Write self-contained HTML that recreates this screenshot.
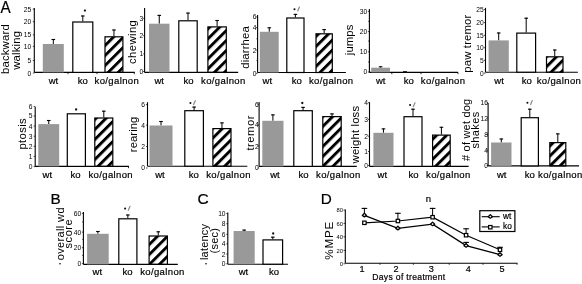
<!DOCTYPE html>
<html><head><meta charset="utf-8"><style>
html,body{margin:0;padding:0;background:#fff;}
body{width:582px;height:284px;overflow:hidden;}
svg{display:block;filter:blur(0.3px);}
text{font-family:"Liberation Sans", sans-serif;fill:#000;}
.s{stroke:#000;stroke-width:0.2px;}
.y{}
</style></head><body>
<svg width="582" height="284" viewBox="0 0 582 284">
<defs>
<pattern id="h0" patternUnits="userSpaceOnUse" width="7.07" height="7.07" patternTransform="rotate(45) translate(6.061,0)"><rect x="0" y="0" width="2.9" height="7.07" fill="#000"/></pattern><pattern id="h1" patternUnits="userSpaceOnUse" width="7.07" height="7.07" patternTransform="rotate(45) translate(3.385,0)"><rect x="0" y="0" width="2.9" height="7.07" fill="#000"/></pattern><pattern id="h2" patternUnits="userSpaceOnUse" width="7.07" height="7.07" patternTransform="rotate(45) translate(0.357,0)"><rect x="0" y="0" width="2.9" height="7.07" fill="#000"/></pattern><pattern id="h3" patternUnits="userSpaceOnUse" width="7.07" height="7.07" patternTransform="rotate(45) translate(0.949,0)"><rect x="0" y="0" width="2.9" height="7.07" fill="#000"/></pattern><pattern id="h4" patternUnits="userSpaceOnUse" width="7.07" height="7.07" patternTransform="rotate(45) translate(1.686,0)"><rect x="0" y="0" width="2.9" height="7.07" fill="#000"/></pattern><pattern id="h5" patternUnits="userSpaceOnUse" width="7.07" height="7.07" patternTransform="rotate(45) translate(6.295,0)"><rect x="0" y="0" width="2.9" height="7.07" fill="#000"/></pattern><pattern id="h6" patternUnits="userSpaceOnUse" width="7.07" height="7.07" patternTransform="rotate(45) translate(5.174,0)"><rect x="0" y="0" width="2.9" height="7.07" fill="#000"/></pattern><pattern id="h7" patternUnits="userSpaceOnUse" width="7.07" height="7.07" patternTransform="rotate(45) translate(7.025,0)"><rect x="0" y="0" width="2.9" height="7.07" fill="#000"/></pattern><pattern id="h8" patternUnits="userSpaceOnUse" width="7.07" height="7.07" patternTransform="rotate(45) translate(2.797,0)"><rect x="0" y="0" width="2.9" height="7.07" fill="#000"/></pattern><pattern id="h9" patternUnits="userSpaceOnUse" width="7.07" height="7.07" patternTransform="rotate(45) translate(1.280,0)"><rect x="0" y="0" width="2.9" height="7.07" fill="#000"/></pattern>
</defs>
<rect width="582" height="284" fill="#fff"/>
<line x1="34.3" y1="8" x2="34.3" y2="72.4" stroke="#000" stroke-width="1.1"/>
<line x1="34.3" y1="72.4" x2="134.8" y2="72.4" stroke="#000" stroke-width="1.1"/>
<line x1="32.8" y1="9.1" x2="34.3" y2="9.1" stroke="#000" stroke-width="0.7"/>
<text x="31.3" y="11.51" text-anchor="end" font-size="6.7" >25</text>
<line x1="32.8" y1="21.7" x2="34.3" y2="21.7" stroke="#000" stroke-width="0.7"/>
<text x="31.3" y="24.11" text-anchor="end" font-size="6.7" >20</text>
<line x1="32.8" y1="34.8" x2="34.3" y2="34.8" stroke="#000" stroke-width="0.7"/>
<text x="31.3" y="37.21" text-anchor="end" font-size="6.7" >15</text>
<line x1="32.8" y1="46.4" x2="34.3" y2="46.4" stroke="#000" stroke-width="0.7"/>
<text x="31.3" y="48.81" text-anchor="end" font-size="6.7" >10</text>
<line x1="32.8" y1="60.5" x2="34.3" y2="60.5" stroke="#000" stroke-width="0.7"/>
<text x="31.3" y="62.91" text-anchor="end" font-size="6.7" >5</text>
<line x1="32.8" y1="73.1" x2="34.3" y2="73.1" stroke="#000" stroke-width="0.7"/>
<text x="31.3" y="75.51" text-anchor="end" font-size="6.7" >0</text>
<line x1="68" y1="72.4" x2="68" y2="74.2" stroke="#000" stroke-width="0.8"/>
<line x1="97" y1="72.4" x2="97" y2="74.2" stroke="#000" stroke-width="0.8"/>
<line x1="134.3" y1="72.4" x2="134.3" y2="74.2" stroke="#000" stroke-width="0.8"/>
<line x1="53.3" y1="39" x2="53.3" y2="44" stroke="#000" stroke-width="1"/>
<line x1="51.5" y1="39.5" x2="55.099999999999994" y2="39.5" stroke="#000" stroke-width="1.1"/>
<rect x="42.8" y="44" width="21.0" height="28.400000000000006" fill="#999999"/>
<line x1="82.80000000000001" y1="15.5" x2="82.80000000000001" y2="21.4" stroke="#000" stroke-width="1"/>
<line x1="81.00000000000001" y1="16.0" x2="84.60000000000001" y2="16.0" stroke="#000" stroke-width="1.1"/>
<rect x="72.8" y="22.0" width="20.000000000000004" height="50.400000000000006" fill="#fff" stroke="#000" stroke-width="1.2"/>
<line x1="113.95" y1="29.5" x2="113.95" y2="36.2" stroke="#000" stroke-width="1"/>
<line x1="112.15" y1="30.0" x2="115.75" y2="30.0" stroke="#000" stroke-width="1.1"/>
<rect x="105.0" y="36.800000000000004" width="17.899999999999995" height="35.6" fill="url(#h0)" stroke="#000" stroke-width="1.2"/>
<circle cx="84.9" cy="10.6" r="1.15" fill="#111"/>
<text class="y" transform="translate(9.4,49.2) rotate(-90)" text-anchor="middle" font-size="11.3" textLength="49.76" lengthAdjust="spacing">backward</text>
<text class="y" transform="translate(19.5,50.4) rotate(-90)" text-anchor="middle" font-size="11.3" textLength="38.69" lengthAdjust="spacing">walking</text>
<text x="48.7" y="83.9" text-anchor="start" font-size="9.5" class="s">wt</text>
<text x="77.76" y="83.9" text-anchor="start" font-size="9.5" class="s">ko</text>
<text class="s" x="94.56" y="83.9" font-size="9.5" textLength="44.2" lengthAdjust="spacing">ko/galnon</text>
<line x1="144.6" y1="8" x2="144.6" y2="72.4" stroke="#000" stroke-width="1.1"/>
<line x1="144.6" y1="72.4" x2="238.2" y2="72.4" stroke="#000" stroke-width="1.1"/>
<line x1="143.1" y1="18.4" x2="144.6" y2="18.4" stroke="#000" stroke-width="0.7"/>
<text x="143.2" y="20.81" text-anchor="end" font-size="6.7" >3</text>
<line x1="143.1" y1="35.7" x2="144.6" y2="35.7" stroke="#000" stroke-width="0.7"/>
<text x="143.2" y="38.11" text-anchor="end" font-size="6.7" >2</text>
<line x1="143.1" y1="53.9" x2="144.6" y2="53.9" stroke="#000" stroke-width="0.7"/>
<text x="143.2" y="56.31" text-anchor="end" font-size="6.7" >1</text>
<line x1="143.1" y1="71.5" x2="144.6" y2="71.5" stroke="#000" stroke-width="0.7"/>
<text x="143.2" y="73.91" text-anchor="end" font-size="6.7" >0</text>
<line x1="159.25" y1="14.9" x2="159.25" y2="23.7" stroke="#000" stroke-width="1"/>
<line x1="157.45" y1="15.4" x2="161.05" y2="15.4" stroke="#000" stroke-width="1.1"/>
<rect x="149" y="23.7" width="20.5" height="48.7" fill="#999999"/>
<line x1="188.0" y1="12.6" x2="188.0" y2="20.2" stroke="#000" stroke-width="1"/>
<line x1="186.2" y1="13.1" x2="189.8" y2="13.1" stroke="#000" stroke-width="1.1"/>
<rect x="178.79999999999998" y="20.8" width="18.400000000000023" height="51.6" fill="#fff" stroke="#000" stroke-width="1.2"/>
<line x1="217.10000000000002" y1="20" x2="217.10000000000002" y2="26.3" stroke="#000" stroke-width="1"/>
<line x1="215.3" y1="20.5" x2="218.90000000000003" y2="20.5" stroke="#000" stroke-width="1.1"/>
<rect x="207.9" y="26.900000000000002" width="18.399999999999995" height="45.50000000000001" fill="url(#h1)" stroke="#000" stroke-width="1.2"/>
<text class="y" transform="translate(135.8,42.0) rotate(-90)" text-anchor="middle" font-size="11.3" textLength="43.85" lengthAdjust="spacing">chewing</text>
<text x="154.4" y="83.9" text-anchor="start" font-size="9.5" class="s">wt</text>
<text x="183.56" y="83.9" text-anchor="start" font-size="9.5" class="s">ko</text>
<text class="s" x="201.06" y="83.9" font-size="9.5" textLength="44.2" lengthAdjust="spacing">ko/galnon</text>
<line x1="257.6" y1="14.9" x2="257.6" y2="72.5" stroke="#000" stroke-width="1.1"/>
<line x1="257.6" y1="72.5" x2="345.9" y2="72.5" stroke="#000" stroke-width="1.1"/>
<line x1="256.1" y1="17" x2="257.6" y2="17" stroke="#000" stroke-width="0.7"/>
<text x="256.6" y="19.41" text-anchor="end" font-size="6.7" >6</text>
<line x1="256.1" y1="27.5" x2="257.6" y2="27.5" stroke="#000" stroke-width="0.7"/>
<text x="256.6" y="29.91" text-anchor="end" font-size="6.7" >4</text>
<line x1="256.1" y1="50.1" x2="257.6" y2="50.1" stroke="#000" stroke-width="0.7"/>
<text x="256.6" y="52.51" text-anchor="end" font-size="6.7" >2</text>
<line x1="256.1" y1="73.3" x2="257.6" y2="73.3" stroke="#000" stroke-width="0.7"/>
<text x="256.6" y="75.71" text-anchor="end" font-size="6.7" >0</text>
<line x1="256.40000000000003" y1="60.4" x2="257.6" y2="60.4" stroke="#000" stroke-width="0.7"/>
<line x1="256.40000000000003" y1="38.8" x2="257.6" y2="38.8" stroke="#000" stroke-width="0.7"/>
<line x1="269.25" y1="27.3" x2="269.25" y2="31.8" stroke="#000" stroke-width="1"/>
<line x1="267.45" y1="27.8" x2="271.05" y2="27.8" stroke="#000" stroke-width="1.1"/>
<rect x="259.8" y="31.8" width="18.899999999999977" height="40.7" fill="#999999"/>
<line x1="295.4" y1="13.9" x2="295.4" y2="17.4" stroke="#000" stroke-width="1"/>
<line x1="293.59999999999997" y1="14.4" x2="297.2" y2="14.4" stroke="#000" stroke-width="1.1"/>
<rect x="286.8" y="18.0" width="17.200000000000035" height="54.5" fill="#fff" stroke="#000" stroke-width="1.2"/>
<line x1="324.15" y1="29.1" x2="324.15" y2="33.2" stroke="#000" stroke-width="1"/>
<line x1="322.34999999999997" y1="29.6" x2="325.95" y2="29.6" stroke="#000" stroke-width="1.1"/>
<rect x="316.0" y="33.800000000000004" width="16.3" height="38.699999999999996" fill="url(#h2)" stroke="#000" stroke-width="1.2"/>
<circle cx="294.5" cy="9.3" r="1.05" fill="#111"/>
<line x1="297.7" y1="10.9" x2="299.4" y2="7.000000000000001" stroke="#888" stroke-width="1.2" stroke-linecap="round"/>
<text class="y" transform="translate(248.7,47.5) rotate(-90)" text-anchor="middle" font-size="11.3" textLength="42.65" lengthAdjust="spacing">diarrhea</text>
<text x="262.6" y="83.9" text-anchor="start" font-size="9.5" class="s">wt</text>
<text x="291.86" y="83.9" text-anchor="start" font-size="9.5" class="s">ko</text>
<text class="s" x="308.96" y="83.9" font-size="9.5" textLength="44.2" lengthAdjust="spacing">ko/galnon</text>
<line x1="369.4" y1="8.9" x2="369.4" y2="72.4" stroke="#000" stroke-width="1.1"/>
<line x1="369.4" y1="72.4" x2="458" y2="72.4" stroke="#000" stroke-width="1.1"/>
<line x1="367.9" y1="11.4" x2="369.4" y2="11.4" stroke="#000" stroke-width="0.7"/>
<text x="367.3" y="13.81" text-anchor="end" font-size="6.7" >30</text>
<line x1="367.9" y1="31.6" x2="369.4" y2="31.6" stroke="#000" stroke-width="0.7"/>
<text x="367.3" y="34.01" text-anchor="end" font-size="6.7" >20</text>
<line x1="367.9" y1="51.8" x2="369.4" y2="51.8" stroke="#000" stroke-width="0.7"/>
<text x="367.3" y="54.21" text-anchor="end" font-size="6.7" >10</text>
<line x1="367.9" y1="72.0" x2="369.4" y2="72.0" stroke="#000" stroke-width="0.7"/>
<text x="367.3" y="74.41" text-anchor="end" font-size="6.7" >0</text>
<line x1="368.2" y1="21.3" x2="369.4" y2="21.3" stroke="#000" stroke-width="0.7"/>
<line x1="368.2" y1="41.1" x2="369.4" y2="41.1" stroke="#000" stroke-width="0.7"/>
<line x1="368.2" y1="62" x2="369.4" y2="62" stroke="#000" stroke-width="0.7"/>
<line x1="391.8" y1="72.4" x2="391.8" y2="74.2" stroke="#000" stroke-width="0.8"/>
<line x1="421" y1="72.4" x2="421" y2="74.2" stroke="#000" stroke-width="0.8"/>
<line x1="458" y1="72.4" x2="458" y2="74.2" stroke="#000" stroke-width="0.8"/>
<line x1="380.6" y1="66.3" x2="380.6" y2="67.7" stroke="#000" stroke-width="1"/>
<line x1="378.8" y1="66.8" x2="382.40000000000003" y2="66.8" stroke="#000" stroke-width="1.1"/>
<rect x="371.2" y="67.7" width="18.80000000000001" height="4.700000000000003" fill="#999999"/>
<rect x="403" y="71.2" width="4" height="1.2000000000000028" fill="#000"/>
<text class="y" transform="translate(352.7,39.9) rotate(-90)" text-anchor="middle" font-size="11.3" textLength="30.54" lengthAdjust="spacing">jumps</text>
<text x="375.9" y="83.9" text-anchor="start" font-size="9.5" class="s">wt</text>
<text x="403.76" y="83.9" text-anchor="start" font-size="9.5" class="s">ko</text>
<text class="s" x="420.86" y="83.9" font-size="9.5" textLength="44.2" lengthAdjust="spacing">ko/galnon</text>
<line x1="485.5" y1="7.9" x2="485.5" y2="72.2" stroke="#000" stroke-width="1.1"/>
<line x1="485.5" y1="72.2" x2="577.9" y2="72.2" stroke="#000" stroke-width="1.1"/>
<line x1="484.0" y1="9.5" x2="485.5" y2="9.5" stroke="#000" stroke-width="0.7"/>
<text x="483.7" y="11.91" text-anchor="end" font-size="6.7" >25</text>
<line x1="484.0" y1="22.5" x2="485.5" y2="22.5" stroke="#000" stroke-width="0.7"/>
<text x="483.7" y="24.91" text-anchor="end" font-size="6.7" >20</text>
<line x1="484.0" y1="35.3" x2="485.5" y2="35.3" stroke="#000" stroke-width="0.7"/>
<text x="483.7" y="37.71" text-anchor="end" font-size="6.7" >15</text>
<line x1="484.0" y1="47.7" x2="485.5" y2="47.7" stroke="#000" stroke-width="0.7"/>
<text x="483.7" y="50.11" text-anchor="end" font-size="6.7" >10</text>
<line x1="484.0" y1="60.4" x2="485.5" y2="60.4" stroke="#000" stroke-width="0.7"/>
<text x="483.7" y="62.81" text-anchor="end" font-size="6.7" >5</text>
<line x1="484.0" y1="73.1" x2="485.5" y2="73.1" stroke="#000" stroke-width="0.7"/>
<text x="483.7" y="75.51" text-anchor="end" font-size="6.7" >0</text>
<line x1="498.70000000000005" y1="32.5" x2="498.70000000000005" y2="40.4" stroke="#000" stroke-width="1"/>
<line x1="496.90000000000003" y1="33.0" x2="500.50000000000006" y2="33.0" stroke="#000" stroke-width="1.1"/>
<rect x="488.6" y="40.4" width="20.19999999999999" height="31.800000000000004" fill="#999999"/>
<line x1="526.2" y1="17.7" x2="526.2" y2="32.5" stroke="#000" stroke-width="1"/>
<line x1="524.4000000000001" y1="18.2" x2="528.0" y2="18.2" stroke="#000" stroke-width="1.1"/>
<rect x="516.8000000000001" y="33.1" width="18.8" height="39.1" fill="#fff" stroke="#000" stroke-width="1.2"/>
<line x1="554.75" y1="49.5" x2="554.75" y2="56.2" stroke="#000" stroke-width="1"/>
<line x1="552.95" y1="50.0" x2="556.55" y2="50.0" stroke="#000" stroke-width="1.1"/>
<rect x="546.5" y="56.800000000000004" width="16.500000000000046" height="15.4" fill="url(#h3)" stroke="#000" stroke-width="1.2"/>
<text class="y" transform="translate(471,43.7) rotate(-90)" text-anchor="middle" font-size="11.3" textLength="58.12" lengthAdjust="spacing">paw tremor</text>
<text x="494.3" y="83.9" text-anchor="start" font-size="9.5" class="s">wt</text>
<text x="521.76" y="83.9" text-anchor="start" font-size="9.5" class="s">ko</text>
<text class="s" x="536.66" y="83.9" font-size="9.5" textLength="44.2" lengthAdjust="spacing">ko/galnon</text>
<line x1="35.2" y1="106.8" x2="35.2" y2="166.4" stroke="#000" stroke-width="1.1"/>
<line x1="35.2" y1="166.4" x2="128.9" y2="166.4" stroke="#000" stroke-width="1.1"/>
<line x1="33.7" y1="106.4" x2="35.2" y2="106.4" stroke="#000" stroke-width="0.7"/>
<text x="32.5" y="108.81" text-anchor="end" font-size="6.7" >6</text>
<line x1="33.7" y1="116" x2="35.2" y2="116" stroke="#000" stroke-width="0.7"/>
<text x="32.5" y="118.41" text-anchor="end" font-size="6.7" >5</text>
<line x1="33.7" y1="126.1" x2="35.2" y2="126.1" stroke="#000" stroke-width="0.7"/>
<text x="32.5" y="128.51" text-anchor="end" font-size="6.7" >4</text>
<line x1="33.7" y1="136.2" x2="35.2" y2="136.2" stroke="#000" stroke-width="0.7"/>
<text x="32.5" y="138.61" text-anchor="end" font-size="6.7" >3</text>
<line x1="33.7" y1="146.3" x2="35.2" y2="146.3" stroke="#000" stroke-width="0.7"/>
<text x="32.5" y="148.71" text-anchor="end" font-size="6.7" >2</text>
<line x1="33.7" y1="156.4" x2="35.2" y2="156.4" stroke="#000" stroke-width="0.7"/>
<text x="32.5" y="158.81" text-anchor="end" font-size="6.7" >1</text>
<line x1="33.7" y1="166.6" x2="35.2" y2="166.6" stroke="#000" stroke-width="0.7"/>
<text x="32.5" y="169.01" text-anchor="end" font-size="6.7" >0</text>
<line x1="128.5" y1="166.4" x2="128.5" y2="168.20000000000002" stroke="#000" stroke-width="0.8"/>
<line x1="48.75" y1="120" x2="48.75" y2="124.1" stroke="#000" stroke-width="1"/>
<line x1="46.95" y1="120.5" x2="50.55" y2="120.5" stroke="#000" stroke-width="1.1"/>
<rect x="38.3" y="124.1" width="20.900000000000006" height="42.30000000000001" fill="#999999"/>
<rect x="67.3" y="113.8" width="18.099999999999998" height="52.6" fill="#fff" stroke="#000" stroke-width="1.2"/>
<line x1="103.80000000000001" y1="110.7" x2="103.80000000000001" y2="117.4" stroke="#000" stroke-width="1"/>
<line x1="102.00000000000001" y1="111.2" x2="105.60000000000001" y2="111.2" stroke="#000" stroke-width="1.1"/>
<rect x="94.8" y="118.0" width="18.000000000000004" height="48.4" fill="url(#h4)" stroke="#000" stroke-width="1.2"/>
<circle cx="76.1" cy="109.5" r="1.15" fill="#111"/>
<text class="y" transform="translate(25.9,133.9) rotate(-90)" text-anchor="middle" font-size="11.3" textLength="31.32" lengthAdjust="spacing">ptosis</text>
<text x="42.6" y="177.8" text-anchor="start" font-size="9.5" class="s">wt</text>
<text x="70.46" y="177.8" text-anchor="start" font-size="9.5" class="s">ko</text>
<text class="s" x="88.46" y="177.8" font-size="9.5" textLength="44.2" lengthAdjust="spacing">ko/galnon</text>
<line x1="147.5" y1="102.2" x2="147.5" y2="166.2" stroke="#000" stroke-width="1.1"/>
<line x1="147.5" y1="166.2" x2="247.3" y2="166.2" stroke="#000" stroke-width="1.1"/>
<line x1="146.0" y1="104.6" x2="147.5" y2="104.6" stroke="#000" stroke-width="0.7"/>
<text x="145.1" y="107.01" text-anchor="end" font-size="6.7" >6</text>
<line x1="146.0" y1="125.2" x2="147.5" y2="125.2" stroke="#000" stroke-width="0.7"/>
<text x="145.1" y="127.61" text-anchor="end" font-size="6.7" >4</text>
<line x1="146.0" y1="146.5" x2="147.5" y2="146.5" stroke="#000" stroke-width="0.7"/>
<text x="145.1" y="148.91" text-anchor="end" font-size="6.7" >2</text>
<line x1="146.0" y1="168" x2="147.5" y2="168" stroke="#000" stroke-width="0.7"/>
<text x="145.1" y="170.41" text-anchor="end" font-size="6.7" >0</text>
<line x1="161.0" y1="121" x2="161.0" y2="125.5" stroke="#000" stroke-width="1"/>
<line x1="159.2" y1="121.5" x2="162.8" y2="121.5" stroke="#000" stroke-width="1.1"/>
<rect x="149.5" y="125.5" width="23.0" height="40.69999999999999" fill="#999999"/>
<line x1="194.1" y1="106.6" x2="194.1" y2="110.1" stroke="#000" stroke-width="1"/>
<line x1="192.29999999999998" y1="107.1" x2="195.9" y2="107.1" stroke="#000" stroke-width="1.1"/>
<rect x="184.79999999999998" y="110.69999999999999" width="18.600000000000012" height="55.49999999999999" fill="#fff" stroke="#000" stroke-width="1.2"/>
<line x1="221.95" y1="122.4" x2="221.95" y2="128.0" stroke="#000" stroke-width="1"/>
<line x1="220.14999999999998" y1="122.9" x2="223.75" y2="122.9" stroke="#000" stroke-width="1.1"/>
<rect x="212.9" y="128.6" width="18.099999999999984" height="37.59999999999999" fill="url(#h5)" stroke="#000" stroke-width="1.2"/>
<circle cx="190.4" cy="103" r="1.05" fill="#111"/>
<line x1="193.6" y1="104.6" x2="195.3" y2="100.7" stroke="#888" stroke-width="1.2" stroke-linecap="round"/>
<text class="y" transform="translate(137.2,134.4) rotate(-90)" text-anchor="middle" font-size="11.3" textLength="35.57" lengthAdjust="spacing">rearing</text>
<text x="155.2" y="177.8" text-anchor="start" font-size="9.5" class="s">wt</text>
<text x="188.66" y="177.8" text-anchor="start" font-size="9.5" class="s">ko</text>
<text class="s" x="206.26" y="177.8" font-size="9.5" textLength="44.2" lengthAdjust="spacing">ko/galnon</text>
<line x1="259.1" y1="101.9" x2="259.1" y2="166.4" stroke="#000" stroke-width="1.1"/>
<line x1="259.1" y1="166.4" x2="356.8" y2="166.4" stroke="#000" stroke-width="1.1"/>
<line x1="257.6" y1="104.2" x2="259.1" y2="104.2" stroke="#000" stroke-width="0.7"/>
<text x="258.8" y="106.61" text-anchor="end" font-size="6.7" >6</text>
<line x1="257.6" y1="124.9" x2="259.1" y2="124.9" stroke="#000" stroke-width="0.7"/>
<text x="258.8" y="127.31" text-anchor="end" font-size="6.7" >4</text>
<line x1="257.6" y1="146.2" x2="259.1" y2="146.2" stroke="#000" stroke-width="0.7"/>
<text x="258.8" y="148.61" text-anchor="end" font-size="6.7" >2</text>
<line x1="257.6" y1="168" x2="259.1" y2="168" stroke="#000" stroke-width="0.7"/>
<text x="258.8" y="170.41" text-anchor="end" font-size="6.7" >0</text>
<line x1="272.9" y1="114.4" x2="272.9" y2="120.8" stroke="#000" stroke-width="1"/>
<line x1="271.09999999999997" y1="114.9" x2="274.7" y2="114.9" stroke="#000" stroke-width="1.1"/>
<rect x="262.3" y="120.8" width="21.19999999999999" height="45.60000000000001" fill="#999999"/>
<line x1="303.04999999999995" y1="106.9" x2="303.04999999999995" y2="110.1" stroke="#000" stroke-width="1"/>
<line x1="301.24999999999994" y1="107.4" x2="304.84999999999997" y2="107.4" stroke="#000" stroke-width="1.1"/>
<rect x="293.8" y="110.69999999999999" width="18.49999999999999" height="55.70000000000001" fill="#fff" stroke="#000" stroke-width="1.2"/>
<line x1="332.0" y1="113.4" x2="332.0" y2="116" stroke="#000" stroke-width="1"/>
<line x1="330.2" y1="113.9" x2="333.8" y2="113.9" stroke="#000" stroke-width="1.1"/>
<rect x="322.8" y="116.6" width="18.400000000000023" height="49.800000000000004" fill="url(#h6)" stroke="#000" stroke-width="1.2"/>
<circle cx="302.3" cy="103" r="1.15" fill="#111"/>
<text class="y" transform="translate(253.5,133.1) rotate(-90)" text-anchor="middle" font-size="11.3" textLength="35.04" lengthAdjust="spacing">tremor</text>
<text x="270.2" y="177.8" text-anchor="start" font-size="9.5" class="s">wt</text>
<text x="298.56" y="177.8" text-anchor="start" font-size="9.5" class="s">ko</text>
<text class="s" x="316.06" y="177.8" font-size="9.5" textLength="44.2" lengthAdjust="spacing">ko/galnon</text>
<line x1="369.5" y1="102.2" x2="369.5" y2="166.4" stroke="#000" stroke-width="1.1"/>
<line x1="369.5" y1="166.4" x2="468.6" y2="166.4" stroke="#000" stroke-width="1.1"/>
<line x1="368.0" y1="102.7" x2="369.5" y2="102.7" stroke="#000" stroke-width="0.7"/>
<text x="368.1" y="105.11" text-anchor="end" font-size="6.7" >4</text>
<line x1="368.0" y1="119.4" x2="369.5" y2="119.4" stroke="#000" stroke-width="0.7"/>
<text x="368.1" y="121.81" text-anchor="end" font-size="6.7" >3</text>
<line x1="368.0" y1="136.2" x2="369.5" y2="136.2" stroke="#000" stroke-width="0.7"/>
<text x="368.1" y="138.61" text-anchor="end" font-size="6.7" >2</text>
<line x1="368.0" y1="151.5" x2="369.5" y2="151.5" stroke="#000" stroke-width="0.7"/>
<text x="368.1" y="153.91" text-anchor="end" font-size="6.7" >1</text>
<line x1="368.0" y1="165.6" x2="369.5" y2="165.6" stroke="#000" stroke-width="0.7"/>
<text x="368.1" y="168.01" text-anchor="end" font-size="6.7" >0</text>
<line x1="383.45" y1="128.4" x2="383.45" y2="132.8" stroke="#000" stroke-width="1"/>
<line x1="381.65" y1="128.9" x2="385.25" y2="128.9" stroke="#000" stroke-width="1.1"/>
<rect x="373.4" y="132.8" width="20.100000000000023" height="33.599999999999994" fill="#999999"/>
<line x1="413.0" y1="108.7" x2="413.0" y2="116.1" stroke="#000" stroke-width="1"/>
<line x1="411.2" y1="109.2" x2="414.8" y2="109.2" stroke="#000" stroke-width="1.1"/>
<rect x="404.0" y="116.69999999999999" width="18.000000000000046" height="49.70000000000001" fill="#fff" stroke="#000" stroke-width="1.2"/>
<line x1="441.4" y1="126.8" x2="441.4" y2="134.5" stroke="#000" stroke-width="1"/>
<line x1="439.59999999999997" y1="127.3" x2="443.2" y2="127.3" stroke="#000" stroke-width="1.1"/>
<rect x="432.6" y="135.1" width="17.600000000000012" height="31.300000000000004" fill="url(#h7)" stroke="#000" stroke-width="1.2"/>
<circle cx="410.1" cy="105" r="1.05" fill="#111"/>
<line x1="413.3" y1="106.6" x2="415.0" y2="102.7" stroke="#888" stroke-width="1.2" stroke-linecap="round"/>
<text class="y" transform="translate(358.7,134.7) rotate(-90)" text-anchor="middle" font-size="11.3" textLength="57.49" lengthAdjust="spacing">weight loss</text>
<text x="377.6" y="177.8" text-anchor="start" font-size="9.5" class="s">wt</text>
<text x="408.56" y="177.8" text-anchor="start" font-size="9.5" class="s">ko</text>
<text class="s" x="426.06" y="177.8" font-size="9.5" textLength="44.2" lengthAdjust="spacing">ko/galnon</text>
<line x1="488.1" y1="103" x2="488.1" y2="165.9" stroke="#000" stroke-width="1.1"/>
<line x1="488.1" y1="165.9" x2="579" y2="165.9" stroke="#000" stroke-width="1.1"/>
<line x1="486.6" y1="102.8" x2="488.1" y2="102.8" stroke="#000" stroke-width="0.7"/>
<text x="488.0" y="105.21" text-anchor="end" font-size="6.7" >16</text>
<line x1="486.6" y1="119" x2="488.1" y2="119" stroke="#000" stroke-width="0.7"/>
<text x="488.0" y="121.41" text-anchor="end" font-size="6.7" >12</text>
<line x1="486.6" y1="134.5" x2="488.1" y2="134.5" stroke="#000" stroke-width="0.7"/>
<text x="488.0" y="136.91" text-anchor="end" font-size="6.7" >8</text>
<line x1="486.6" y1="150.2" x2="488.1" y2="150.2" stroke="#000" stroke-width="0.7"/>
<text x="488.0" y="152.61" text-anchor="end" font-size="6.7" >4</text>
<line x1="486.6" y1="165.6" x2="488.1" y2="165.6" stroke="#000" stroke-width="0.7"/>
<text x="488.0" y="168.01" text-anchor="end" font-size="6.7" >0</text>
<line x1="501.3" y1="138.5" x2="501.3" y2="142.5" stroke="#000" stroke-width="1"/>
<line x1="499.5" y1="139.0" x2="503.1" y2="139.0" stroke="#000" stroke-width="1.1"/>
<rect x="491.1" y="142.5" width="20.399999999999977" height="23.400000000000006" fill="#999999"/>
<line x1="529.8" y1="108.7" x2="529.8" y2="117.1" stroke="#000" stroke-width="1"/>
<line x1="528.0" y1="109.2" x2="531.5999999999999" y2="109.2" stroke="#000" stroke-width="1.1"/>
<rect x="521.2" y="117.69999999999999" width="17.199999999999978" height="48.20000000000001" fill="#fff" stroke="#000" stroke-width="1.2"/>
<line x1="557.8" y1="133.4" x2="557.8" y2="142.0" stroke="#000" stroke-width="1"/>
<line x1="556.0" y1="133.9" x2="559.5999999999999" y2="133.9" stroke="#000" stroke-width="1.1"/>
<rect x="549.8000000000001" y="142.6" width="15.999999999999932" height="23.300000000000004" fill="url(#h8)" stroke="#000" stroke-width="1.2"/>
<circle cx="527.4" cy="102.8" r="1.05" fill="#111"/>
<line x1="530.6" y1="104.39999999999999" x2="532.3" y2="100.5" stroke="#888" stroke-width="1.2" stroke-linecap="round"/>
<text class="y" transform="translate(469.7,129.9) rotate(-90)" text-anchor="middle" font-size="11.0" textLength="62.14" lengthAdjust="spacing"># of wet dog</text>
<text class="y" transform="translate(478.8,130.2) rotate(-90)" text-anchor="middle" font-size="11.0" textLength="36.86" lengthAdjust="spacing">shakes</text>
<text x="497.0" y="177.8" text-anchor="start" font-size="9.5" class="s">wt</text>
<text x="524.66" y="177.8" text-anchor="start" font-size="9.5" class="s">ko</text>
<text class="s" x="538.06" y="177.8" font-size="9.5" textLength="44.2" lengthAdjust="spacing">ko/galnon</text>
<line x1="83.4" y1="212" x2="83.4" y2="264.4" stroke="#000" stroke-width="1.1"/>
<line x1="83.4" y1="264.4" x2="177.8" y2="264.4" stroke="#000" stroke-width="1.1"/>
<line x1="81.9" y1="213.4" x2="83.4" y2="213.4" stroke="#000" stroke-width="0.7"/>
<text x="81.2" y="215.81" text-anchor="end" font-size="6.7" >60</text>
<line x1="81.9" y1="232.1" x2="83.4" y2="232.1" stroke="#000" stroke-width="0.7"/>
<text x="81.2" y="234.51" text-anchor="end" font-size="6.7" >40</text>
<line x1="81.9" y1="247.7" x2="83.4" y2="247.7" stroke="#000" stroke-width="0.7"/>
<text x="81.2" y="250.11" text-anchor="end" font-size="6.7" >20</text>
<line x1="81.9" y1="263.6" x2="83.4" y2="263.6" stroke="#000" stroke-width="0.7"/>
<text x="81.2" y="266.01" text-anchor="end" font-size="6.7" >0</text>
<line x1="82.2" y1="222" x2="83.4" y2="222" stroke="#000" stroke-width="0.7"/>
<line x1="82.2" y1="239.3" x2="83.4" y2="239.3" stroke="#000" stroke-width="0.7"/>
<line x1="82.2" y1="255.4" x2="83.4" y2="255.4" stroke="#000" stroke-width="0.7"/>
<line x1="97.9" y1="231" x2="97.9" y2="233.8" stroke="#000" stroke-width="1"/>
<line x1="96.10000000000001" y1="231.5" x2="99.7" y2="231.5" stroke="#000" stroke-width="1.1"/>
<rect x="87.1" y="233.8" width="21.60000000000001" height="30.599999999999966" fill="#999999"/>
<line x1="127.85" y1="214.5" x2="127.85" y2="218.2" stroke="#000" stroke-width="1"/>
<line x1="126.05" y1="215.0" x2="129.65" y2="215.0" stroke="#000" stroke-width="1.1"/>
<rect x="118.8" y="218.79999999999998" width="18.099999999999998" height="45.59999999999999" fill="#fff" stroke="#000" stroke-width="1.2"/>
<line x1="158.25" y1="231.3" x2="158.25" y2="235.4" stroke="#000" stroke-width="1"/>
<line x1="156.45" y1="231.8" x2="160.05" y2="231.8" stroke="#000" stroke-width="1.1"/>
<rect x="149.1" y="236.0" width="18.3" height="28.39999999999997" fill="url(#h9)" stroke="#000" stroke-width="1.2"/>
<circle cx="125.1" cy="208.6" r="1.05" fill="#111"/>
<line x1="128.29999999999998" y1="210.2" x2="130.0" y2="206.29999999999998" stroke="#888" stroke-width="1.2" stroke-linecap="round"/>
<text class="y" transform="translate(64.0,233.9) rotate(-90)" text-anchor="middle" font-size="11.0" textLength="52.93" lengthAdjust="spacing">overall wd</text>
<text class="y" transform="translate(71.9,233.9) rotate(-90)" text-anchor="middle" font-size="11.0" textLength="29.11" lengthAdjust="spacing">score</text>
<text x="92.6" y="275.0" text-anchor="start" font-size="9.5" class="s">wt</text>
<text x="122.46" y="275.0" text-anchor="start" font-size="9.5" class="s">ko</text>
<text class="s" x="140.16" y="275.0" font-size="9.5" textLength="44.2" lengthAdjust="spacing">ko/galnon</text>
<line x1="227.8" y1="212.6" x2="227.8" y2="264.2" stroke="#000" stroke-width="1.1"/>
<line x1="227.8" y1="264.2" x2="288" y2="264.2" stroke="#000" stroke-width="1.1"/>
<line x1="226.3" y1="213.6" x2="227.8" y2="213.6" stroke="#000" stroke-width="0.7"/>
<text x="225.6" y="216.01" text-anchor="end" font-size="6.7" >10</text>
<line x1="226.3" y1="223.7" x2="227.8" y2="223.7" stroke="#000" stroke-width="0.7"/>
<text x="225.6" y="226.11" text-anchor="end" font-size="6.7" >8</text>
<line x1="226.3" y1="234.3" x2="227.8" y2="234.3" stroke="#000" stroke-width="0.7"/>
<text x="225.6" y="236.71" text-anchor="end" font-size="6.7" >6</text>
<line x1="226.3" y1="243.9" x2="227.8" y2="243.9" stroke="#000" stroke-width="0.7"/>
<text x="225.6" y="246.31" text-anchor="end" font-size="6.7" >4</text>
<line x1="226.3" y1="254.1" x2="227.8" y2="254.1" stroke="#000" stroke-width="0.7"/>
<text x="225.6" y="256.51" text-anchor="end" font-size="6.7" >2</text>
<line x1="226.3" y1="263.8" x2="227.8" y2="263.8" stroke="#000" stroke-width="0.7"/>
<text x="225.6" y="266.21" text-anchor="end" font-size="6.7" >0</text>
<line x1="244.14999999999998" y1="229.6" x2="244.14999999999998" y2="231" stroke="#000" stroke-width="1"/>
<line x1="242.34999999999997" y1="230.1" x2="245.95" y2="230.1" stroke="#000" stroke-width="1.1"/>
<rect x="233.6" y="231" width="21.099999999999994" height="33.19999999999999" fill="#999999"/>
<line x1="272.79999999999995" y1="236.7" x2="272.79999999999995" y2="239.3" stroke="#000" stroke-width="1"/>
<line x1="270.99999999999994" y1="237.2" x2="274.59999999999997" y2="237.2" stroke="#000" stroke-width="1.1"/>
<rect x="263.0" y="239.9" width="19.600000000000012" height="24.299999999999976" fill="#fff" stroke="#000" stroke-width="1.2"/>
<circle cx="273.2" cy="233.5" r="1.15" fill="#111"/>
<text class="y" transform="translate(207.9,242.0) rotate(-90)" text-anchor="middle" font-size="11.0" textLength="36.06" lengthAdjust="spacing">latency</text>
<text class="y" transform="translate(217.6,240.8) rotate(-90)" text-anchor="middle" font-size="11.0" textLength="25.25" lengthAdjust="spacing">(sec)</text>
<text x="238.7" y="275.0" text-anchor="start" font-size="9.5" class="s">wt</text>
<text x="269.06" y="275.0" text-anchor="start" font-size="9.5" class="s">ko</text>
<text class="s" transform="translate(0.6,12.7) scale(0.93,1)" font-size="16.4">A</text>
<text x="50.5" y="204.1" text-anchor="start" font-size="15.3" class="s">B</text>
<text x="197.4" y="204.4" text-anchor="start" font-size="15.5" class="s">C</text>
<text x="320.7" y="204.1" text-anchor="start" font-size="15.3" class="s">D</text>
<circle cx="60" cy="263.8" r="0.8" fill="#000"/>
<circle cx="206" cy="263.8" r="0.8" fill="#000"/>
<line x1="345.3" y1="209.5" x2="345.3" y2="263.3" stroke="#000" stroke-width="1.1"/>
<line x1="345.3" y1="263.3" x2="517.5" y2="263.3" stroke="#000" stroke-width="1.1"/>
<line x1="343.5" y1="210.1" x2="345.3" y2="210.1" stroke="#000" stroke-width="0.7"/>
<text x="342.90000000000003" y="212.2" text-anchor="end" font-size="5.8" >80</text>
<line x1="343.5" y1="223.4" x2="345.3" y2="223.4" stroke="#000" stroke-width="0.7"/>
<text x="342.90000000000003" y="225.5" text-anchor="end" font-size="5.8" >60</text>
<line x1="343.5" y1="236.8" x2="345.3" y2="236.8" stroke="#000" stroke-width="0.7"/>
<text x="342.90000000000003" y="238.9" text-anchor="end" font-size="5.8" >40</text>
<line x1="343.5" y1="250.4" x2="345.3" y2="250.4" stroke="#000" stroke-width="0.7"/>
<text x="342.90000000000003" y="252.5" text-anchor="end" font-size="5.8" >20</text>
<line x1="343.5" y1="263.8" x2="345.3" y2="263.8" stroke="#000" stroke-width="0.7"/>
<text x="342.90000000000003" y="265.90000000000003" text-anchor="end" font-size="5.8" >0</text>
<text x="362.1" y="271.8" text-anchor="middle" font-size="9.1" class="s">1</text>
<text x="396.1" y="271.8" text-anchor="middle" font-size="9.1" class="s">2</text>
<text x="431.2" y="271.8" text-anchor="middle" font-size="9.1" class="s">3</text>
<text x="468.2" y="271.8" text-anchor="middle" font-size="9.1" class="s">4</text>
<text x="502.1" y="271.8" text-anchor="middle" font-size="9.1" class="s">5</text>
<line x1="379.9" y1="263.3" x2="379.9" y2="264.8" stroke="#000" stroke-width="0.8"/>
<line x1="413.4" y1="263.3" x2="413.4" y2="264.8" stroke="#000" stroke-width="0.8"/>
<line x1="449.2" y1="263.3" x2="449.2" y2="264.8" stroke="#000" stroke-width="0.8"/>
<line x1="483" y1="263.3" x2="483" y2="264.8" stroke="#000" stroke-width="0.8"/>
<line x1="517" y1="263.3" x2="517" y2="264.8" stroke="#000" stroke-width="0.8"/>
<text x="372.2" y="280.3" text-anchor="start" font-size="8.6" class="s" textLength="73" lengthAdjust="spacing">Days of treatment</text>
<text x="428.5" y="202" text-anchor="middle" font-size="9.5" class="s">n</text>
<text class="y" transform="translate(332.6,240.7) rotate(-90)" text-anchor="middle" font-size="11.7" textLength="38.13" lengthAdjust="spacing">%MPE</text>
<line x1="364.4" y1="207.9" x2="364.4" y2="215.3" stroke="#000" stroke-width="1"/>
<line x1="361.59999999999997" y1="208.4" x2="367.2" y2="208.4" stroke="#000" stroke-width="1.1"/>
<line x1="397.9" y1="212.8" x2="397.9" y2="221" stroke="#000" stroke-width="1"/>
<line x1="395.09999999999997" y1="213.3" x2="400.7" y2="213.3" stroke="#000" stroke-width="1.1"/>
<line x1="432.6" y1="207.9" x2="432.6" y2="217.2" stroke="#000" stroke-width="1"/>
<line x1="429.8" y1="208.4" x2="435.40000000000003" y2="208.4" stroke="#000" stroke-width="1.1"/>
<line x1="466.1" y1="228.3" x2="466.1" y2="235.2" stroke="#000" stroke-width="1"/>
<line x1="463.3" y1="228.8" x2="468.90000000000003" y2="228.8" stroke="#000" stroke-width="1.1"/>
<line x1="500" y1="246.8" x2="500" y2="249.8" stroke="#000" stroke-width="1"/>
<line x1="497.2" y1="247.3" x2="502.8" y2="247.3" stroke="#000" stroke-width="1.1"/>
<line x1="466.1" y1="241.9" x2="466.1" y2="245.6" stroke="#000" stroke-width="1"/>
<line x1="463.3" y1="242.4" x2="468.90000000000003" y2="242.4" stroke="#000" stroke-width="1.1"/>
<polyline points="364.4,222.8 397.9,221 432.6,217.2 466.1,235.2 500,249.8" fill="none" stroke="#000" stroke-width="1.25"/>
<polyline points="364.4,215.3 397.9,228.3 432.6,224.1 466.1,245.6 500,254.7" fill="none" stroke="#000" stroke-width="1.25"/>
<rect x="362.7" y="221.10000000000002" width="3.4" height="3.4" fill="#fff" stroke="#000" stroke-width="1.2"/>
<rect x="396.2" y="219.3" width="3.4" height="3.4" fill="#fff" stroke="#000" stroke-width="1.2"/>
<rect x="430.90000000000003" y="215.5" width="3.4" height="3.4" fill="#fff" stroke="#000" stroke-width="1.2"/>
<rect x="464.40000000000003" y="233.5" width="3.4" height="3.4" fill="#fff" stroke="#000" stroke-width="1.2"/>
<rect x="498.3" y="248.10000000000002" width="3.4" height="3.4" fill="#fff" stroke="#000" stroke-width="1.2"/>
<polygon points="364.4,213.3 366.5,215.4 364.4,216.9 362.29999999999995,215.4" fill="#fff" stroke="#000" stroke-width="1.3" stroke-linejoin="round"/>
<polygon points="397.9,226.3 400.0,228.4 397.9,229.9 395.79999999999995,228.4" fill="#fff" stroke="#000" stroke-width="1.3" stroke-linejoin="round"/>
<polygon points="432.6,222.1 434.70000000000005,224.2 432.6,225.7 430.5,224.2" fill="#fff" stroke="#000" stroke-width="1.3" stroke-linejoin="round"/>
<polygon points="466.1,243.6 468.20000000000005,245.7 466.1,247.2 464.0,245.7" fill="#fff" stroke="#000" stroke-width="1.3" stroke-linejoin="round"/>
<polygon points="500,252.7 502.1,254.79999999999998 500,256.3 497.9,254.79999999999998" fill="#fff" stroke="#000" stroke-width="1.3" stroke-linejoin="round"/>
<rect x="479.8" y="210.7" width="35.1" height="20.8" fill="#fff" stroke="#000" stroke-width="1.2"/>
<line x1="481.7" y1="216.7" x2="499.7" y2="216.7" stroke="#000" stroke-width="1.1"/>
<polygon points="490.3,214.6 492.40000000000003,216.7 490.3,218.2 488.2,216.7" fill="#fff" stroke="#000" stroke-width="1.3" stroke-linejoin="round"/>
<line x1="481.7" y1="226.9" x2="499.7" y2="226.9" stroke="#000" stroke-width="1.1"/>
<rect x="488.6" y="225.5" width="3.4" height="3.4" fill="#fff" stroke="#000" stroke-width="1.2"/>
<text x="503" y="218.6" text-anchor="start" font-size="8.3" class="s">wt</text>
<text x="503" y="228.9" text-anchor="start" font-size="8.3" class="s">ko</text>
</svg>
</body></html>
